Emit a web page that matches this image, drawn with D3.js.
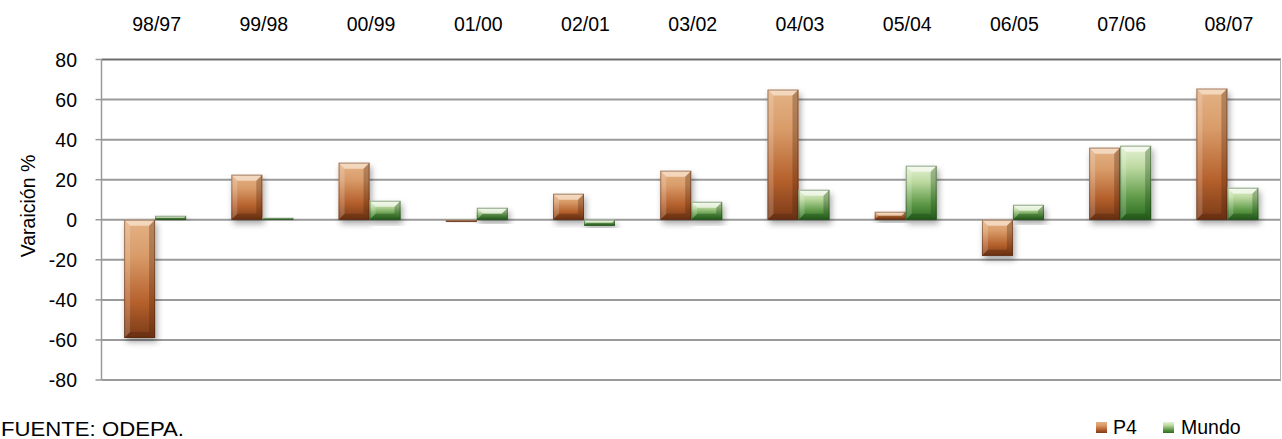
<!DOCTYPE html>
<html><head><meta charset="utf-8">
<script src="https://cdn.jsdelivr.net/npm/d3@7"></script>
<style>body{margin:0;background:#fff;font-family:"Liberation Sans",Arial,sans-serif;}</style>
</head><body>
<svg id="c" width="1282" height="439"></svg>
<script>
const categories = ["98/97","99/98","00/99","01/00","02/01","03/02","04/03","05/04","06/05","07/06","08/07"];
const p4Values = [-59, 22.5, 28.5, -1, 13, 24.5, 65, 4, -18, 36, 65.5];
const mundoValues = [2, 1, 9.5, 6, -3, 9, 15, 27, 7.5, 37, 16];
const yTicks = [-80,-60,-40,-20,0,20,40,60,80];
const seriesNames = ["P4","Mundo"];

(function(){
const svg = d3.select("#c");
const pl = 101.5, pr = 1281, pt = 59.5, pb = 380;
const fs = 19.5;
const x = d3.scaleBand().domain(categories).range([pl, pr]);
const y = d3.scaleLinear().domain([-80, 80]).range([pb, pt]);
const barW = 31;

const defs = svg.append("defs");
const f = defs.append("filter").attr("id","sh").attr("x","-30%").attr("y","-30%").attr("width","160%").attr("height","160%");
f.append("feDropShadow").attr("dx",2).attr("dy",4).attr("stdDeviation",3).attr("flood-color","#000").attr("flood-opacity",0.35);

function grad(id, stops){
  const g = defs.append("linearGradient").attr("id",id).attr("x1",0).attr("y1",0).attr("x2",0).attr("y2",1);
  stops.forEach(s=>g.append("stop").attr("offset",s[0]).attr("stop-color",s[1]));
}
grad("gP4", [[0,"#e4b285"],[0.3,"#d99c6a"],[0.7,"#b5602c"],[1,"#7a3a18"]]);
grad("gMu", [[0,"#e6f2d4"],[0.3,"#bcd9a0"],[0.7,"#5f9a48"],[1,"#2b6a20"]]);

svg.append("g").selectAll("line").data(yTicks).join("line")
  .attr("x1",pl).attr("x2",pr).attr("y1",d=>y(d)).attr("y2",d=>y(d))
  .attr("stroke",d=>d===80?"#6e6e6e":"#9a9a9a").attr("stroke-width",2);
svg.append("g").selectAll("line").data(yTicks).join("line")
  .attr("x1",pl-6).attr("x2",pl).attr("y1",d=>y(d)).attr("y2",d=>y(d))
  .attr("stroke","#9a9a9a").attr("stroke-width",1.5);
svg.append("line").attr("x1",pl).attr("x2",pl).attr("y1",pt).attr("y2",pb).attr("stroke","#9a9a9a").attr("stroke-width",1.5);
svg.append("line").attr("x1",pr-0.5).attr("x2",pr-0.5).attr("y1",pt).attr("y2",pb).attr("stroke","#b0b0b0").attr("stroke-width",1);

svg.append("g").selectAll("text").data(yTicks).join("text")
  .attr("x",77).attr("y",d=>y(d)+7).attr("text-anchor","end")
  .attr("font-size",fs).attr("fill","#000").text(d=>d);
svg.append("g").selectAll("text").data(categories).join("text")
  .attr("x",d=>x(d)+x.bandwidth()/2+1.5).attr("y",31).attr("text-anchor","middle")
  .attr("font-size",fs).attr("fill","#000").text(d=>d);
svg.append("text").attr("transform","translate(35,206) rotate(-90)").attr("text-anchor","middle")
  .attr("font-size",fs).text("Varaición %");
svg.append("text").attr("x",1).attr("y",436).attr("font-size",fs).attr("textLength",183).attr("lengthAdjust","spacingAndGlyphs").text("FUENTE: ODEPA.");

function drawBar(g, x0, v, gid, light, dark, side){
  const y0 = Math.min(y(0), y(v)), y1 = Math.max(y(0), y(v));
  const h = Math.max(y1-y0, 1.5);
  const grp = g.append("g");
  grp.append("rect").attr("x",x0).attr("y",y0).attr("width",barW).attr("height",h)
    .attr("fill",`url(#${gid})`).attr("filter","url(#sh)");
  const b = Math.min(6, h/2);
  const x1 = x0+barW, yb = y0+h;
  grp.append("polygon").attr("points",[[x0,y0],[x1,y0],[x1-b,y0+b],[x0+b,y0+b]].join(" ")).attr("fill",light).attr("opacity",0.6);
  grp.append("polygon").attr("points",[[x0,yb],[x1,yb],[x1-b,yb-b],[x0+b,yb-b]].join(" ")).attr("fill",dark).attr("opacity",0.35);
  grp.append("polygon").attr("points",[[x0,y0],[x0+b,y0+b],[x0+b,yb-b],[x0,yb]].join(" ")).attr("fill",side).attr("opacity",0.18);
  grp.append("polygon").attr("points",[[x1,y0],[x1-b,y0+b],[x1-b,yb-b],[x1,yb]].join(" ")).attr("fill",dark).attr("opacity",0.3);
  grp.append("rect").attr("x",x0+0.5).attr("y",y0+0.5).attr("width",barW-1).attr("height",Math.max(h-1,0.5))
    .attr("fill","none").attr("stroke",dark).attr("stroke-opacity",0.45).attr("stroke-width",1);
}
const bars = svg.append("g");
categories.forEach((c,i)=>{
  const cx = x(c)+x.bandwidth()/2;
  drawBar(bars, cx-barW, p4Values[i], "gP4", "#fff4e6", "#4a200a", "#ffffff");
  drawBar(bars, cx, mundoValues[i], "gMu", "#ffffff", "#153d10", "#ffffff");
});

const leg = svg.append("g");
const legItems = [{n:seriesNames[0],g:"gP4",x:1096,tx:1113},{n:seriesNames[1],g:"gMu",x:1163,tx:1181}];
legItems.forEach(d=>{
  leg.append("rect").attr("x",d.x).attr("y",422).attr("width",11).attr("height",11).attr("fill",`url(#${d.g})`);
  leg.append("text").attr("x",d.tx).attr("y",433.5).attr("font-size",fs).text(d.n);
});
})();
</script>
</body></html>
